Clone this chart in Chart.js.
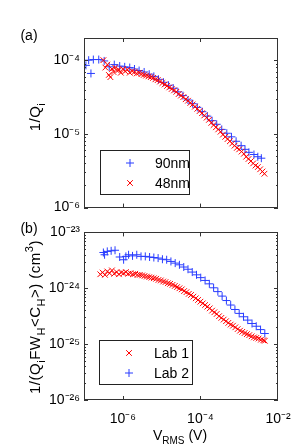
<!DOCTYPE html>
<html><head><meta charset="utf-8">
<script src="https://cdn.jsdelivr.net/npm/chart.js@4.4.1/dist/chart.umd.min.js"></script>
<style>
html,body{margin:0;padding:0;background:#fff;width:308px;height:447px;overflow:hidden}
#c1{position:absolute;left:0;top:0;width:308px;height:220px}
#c2{position:absolute;left:0;top:220px;width:308px;height:227px}
</style></head><body>
<canvas id="c1" width="308" height="220"></canvas>
<canvas id="c2" width="308" height="227"></canvas>
<script>
// ---------- data (a) ----------
const topV90=[1.12e-7,1.32e-7,1.51e-7,1.74e-7,2.40e-7,3.31e-7,4.47e-7,6.03e-7,8.32e-7,1.12e-6,1.51e-6,2.00e-6,2.63e-6,3.55e-6,4.79e-6,6.31e-6,8.32e-6,1.12e-5,1.51e-5,2.00e-5,2.63e-5,3.55e-5,4.79e-5,6.31e-5,8.32e-5,1.12e-4,1.51e-4,2.00e-4,2.63e-4,3.55e-4,4.79e-4,6.31e-4,8.32e-4,1.12e-3,1.41e-3,1.78e-3,2.40e-3,3.02e-3,3.72e-3];
const top90=[8.51e-5,1.00e-4,6.61e-5,1.02e-4,1.02e-4,9.77e-5,8.13e-5,8.71e-5,8.32e-5,8.13e-5,7.94e-5,7.59e-5,7.24e-5,6.92e-5,6.46e-5,6.03e-5,5.50e-5,5.01e-5,4.57e-5,4.17e-5,3.72e-5,3.31e-5,2.88e-5,2.57e-5,2.29e-5,2.00e-5,1.74e-5,1.51e-5,1.35e-5,1.15e-5,1.02e-5,9.12e-6,7.94e-6,6.92e-6,6.17e-6,5.62e-6,5.25e-6,4.90e-6,4.68e-6];
const topV48=[3.16e-7,3.55e-7,3.98e-7,4.37e-7,4.79e-7,5.25e-7,5.75e-7,6.31e-7,7.08e-7,7.94e-7,8.91e-7,1.00e-6,1.15e-6,1.32e-6,1.51e-6,1.74e-6,2.00e-6,2.29e-6,2.63e-6,3.02e-6,3.47e-6,3.98e-6,4.57e-6,5.25e-6,6.03e-6,6.92e-6,7.94e-6,9.12e-6,1.05e-5,1.20e-5,1.38e-5,1.58e-5,1.82e-5,2.09e-5,2.40e-5,2.75e-5,3.16e-5,3.63e-5,4.17e-5,4.79e-5,5.50e-5,6.31e-5,7.24e-5,8.32e-5,9.55e-5,1.10e-4,1.26e-4,1.45e-4,1.66e-4,1.91e-4,2.19e-4,2.51e-4,2.88e-4,3.31e-4,3.80e-4,4.37e-4,5.01e-4,5.75e-4,6.61e-4,7.59e-4,8.71e-4,1.00e-3,1.15e-3,1.32e-3,1.51e-3,1.74e-3,2.00e-3,2.29e-3,2.63e-3,3.02e-3,3.47e-3,3.98e-3,4.47e-3];
const top48=[1.00e-4,7.94e-5,8.71e-5,6.31e-5,5.89e-5,7.59e-5,6.92e-5,7.94e-5,7.24e-5,7.41e-5,6.76e-5,7.59e-5,7.08e-5,7.41e-5,6.76e-5,7.08e-5,6.92e-5,6.61e-5,6.76e-5,6.46e-5,6.31e-5,6.17e-5,6.03e-5,5.89e-5,5.75e-5,5.50e-5,5.37e-5,5.13e-5,4.90e-5,4.68e-5,4.47e-5,4.27e-5,4.07e-5,3.89e-5,3.72e-5,3.47e-5,3.31e-5,3.16e-5,2.95e-5,2.82e-5,2.63e-5,2.51e-5,2.34e-5,2.19e-5,2.04e-5,1.91e-5,1.78e-5,1.66e-5,1.55e-5,1.41e-5,1.32e-5,1.23e-5,1.15e-5,1.07e-5,9.77e-6,9.12e-6,8.51e-6,7.94e-6,7.41e-6,6.92e-6,6.46e-6,6.17e-6,5.75e-6,5.37e-6,4.90e-6,4.57e-6,4.27e-6,3.98e-6,3.72e-6,3.55e-6,3.31e-6,3.09e-6,2.88e-6];
// ---------- data (b) ----------
const botVLab1=[2.63e-7,3.02e-7,3.47e-7,3.98e-7,4.57e-7,5.25e-7,6.03e-7,6.92e-7,7.94e-7,9.12e-7,1.05e-6,1.20e-6,1.38e-6,1.58e-6,1.82e-6,2.09e-6,2.40e-6,2.75e-6,3.16e-6,3.63e-6,4.17e-6,4.79e-6,5.50e-6,6.31e-6,7.24e-6,8.32e-6,9.55e-6,1.10e-5,1.26e-5,1.45e-5,1.66e-5,1.91e-5,2.19e-5,2.51e-5,2.88e-5,3.31e-5,3.80e-5,4.37e-5,5.01e-5,5.75e-5,6.61e-5,7.59e-5,8.71e-5,1.00e-4,1.15e-4,1.32e-4,1.51e-4,1.74e-4,2.00e-4,2.29e-4,2.63e-4,3.02e-4,3.47e-4,3.98e-4,4.57e-4,5.25e-4,6.03e-4,6.92e-4,7.94e-4,9.12e-4,1.05e-3,1.20e-3,1.38e-3,1.58e-3,1.82e-3,2.09e-3,2.40e-3,2.75e-3,3.16e-3,3.63e-3,4.17e-3,4.57e-3];
const botLab1=[1.78e-24,1.91e-24,1.74e-24,2.00e-24,1.86e-24,2.09e-24,1.82e-24,1.95e-24,1.78e-24,1.91e-24,1.86e-24,1.95e-24,1.82e-24,1.86e-24,1.78e-24,1.82e-24,1.74e-24,1.74e-24,1.70e-24,1.66e-24,1.62e-24,1.58e-24,1.55e-24,1.51e-24,1.48e-24,1.41e-24,1.38e-24,1.32e-24,1.29e-24,1.23e-24,1.20e-24,1.15e-24,1.10e-24,1.05e-24,1.00e-24,9.55e-25,8.91e-25,8.51e-25,7.94e-25,7.59e-25,7.08e-25,6.61e-25,6.17e-25,5.75e-25,5.37e-25,5.01e-25,4.68e-25,4.37e-25,3.98e-25,3.72e-25,3.47e-25,3.16e-25,2.95e-25,2.75e-25,2.57e-25,2.40e-25,2.24e-25,2.14e-25,2.00e-25,1.86e-25,1.74e-25,1.66e-25,1.58e-25,1.51e-25,1.45e-25,1.38e-25,1.32e-25,1.29e-25,1.26e-25,1.20e-25,1.17e-25,1.15e-25];
const botVLab2=[3.16e-7,3.39e-7,3.98e-7,5.01e-7,6.31e-7,8.32e-7,1.05e-6,1.20e-6,1.41e-6,1.78e-6,2.29e-6,2.95e-6,3.80e-6,4.90e-6,6.31e-6,8.13e-6,1.05e-5,1.35e-5,1.74e-5,2.24e-5,2.88e-5,3.72e-5,4.79e-5,6.17e-5,7.94e-5,1.02e-4,1.32e-4,1.70e-4,2.19e-4,2.82e-4,3.63e-4,4.68e-4,6.03e-4,7.76e-4,1.00e-3,1.29e-3,1.66e-3,2.14e-3,2.75e-3,3.55e-3,4.57e-3];
const botLab2=[4.37e-24,3.98e-24,4.57e-24,4.68e-24,4.79e-24,3.63e-24,3.24e-24,3.72e-24,3.98e-24,3.80e-24,3.98e-24,3.72e-24,3.72e-24,3.63e-24,3.55e-24,3.47e-24,3.31e-24,3.24e-24,3.02e-24,2.82e-24,2.63e-24,2.40e-24,2.19e-24,1.95e-24,1.74e-24,1.55e-24,1.38e-24,1.20e-24,1.02e-24,8.71e-25,7.24e-25,6.03e-25,5.01e-25,4.17e-25,3.55e-25,3.09e-25,2.69e-25,2.34e-25,2.09e-25,1.82e-25,1.55e-25];
// ---------- axes ----------
const xTicks=[1e-6,1e-4,1e-2];
const yTicksTop=[1e-6,1e-5,1e-4];
const yTicksBot=[1e-26,1e-25,1e-24,1e-23];
const seriesNamesTop=['90nm','48nm'];
const seriesNamesBot=['Lab 1','Lab 2'];

const BLUE='rgb(40,60,255)', RED='rgb(255,0,0)';
const FONT='"Liberation Sans", Arial, sans-serif';
const SUP={'-':'\u207B','0':'\u2070','1':'\u00B9','2':'\u00B2','3':'\u00B3','4':'\u2074','5':'\u2075','6':'\u2076','7':'\u2077','8':'\u2078','9':'\u2079'};
function fmt(v){const e=Math.round(Math.log10(v));return '10'+String(e).split('').map(c=>SUP[c]).join('');}
const pts=(xs,ys)=>xs.map((x,i)=>({x:x,y:ys[i]}));

function drawRich(ctx,x,y,segs,rot,size,sp){
  const sub=Math.round(size*0.72);
  ctx.save();ctx.translate(x,y);if(rot)ctx.rotate(-Math.PI/2);
  if(sp&&('letterSpacing' in ctx))ctx.letterSpacing=sp+'px';
  let w=0;
  segs.forEach(s=>{ctx.font=(s.s?sub:size)+'px '+FONT;w+=ctx.measureText(s.t).width;});
  let cx=-w/2;ctx.fillStyle='#000';ctx.textBaseline='alphabetic';ctx.textAlign='left';
  segs.forEach(s=>{ctx.font=(s.s?sub:size)+'px '+FONT;const dy=s.s==='sub'?size*0.3:(s.s==='sup'?-size*0.45:0);ctx.fillText(s.t,cx,dy);cx+=ctx.measureText(s.t).width;});
  ctx.restore();
}

const framePlugin={id:'frame',afterDraw(chart,args,o){
  const ctx=chart.ctx,a=chart.chartArea,xs=chart.scales.x,ys=chart.scales.y;
  ctx.save();ctx.strokeStyle='#333';ctx.lineWidth=1;
  ctx.strokeRect(Math.round(a.left)+0.5,Math.round(a.top)+0.5,Math.round(a.right-a.left)-1,Math.round(a.bottom-a.top)-1);
  ctx.beginPath();
  const lo=Math.round(Math.log10(ys.min)),hi=Math.ceil(Math.log10(ys.max));
  for(let d=lo;d<=hi;d++){for(let m=1;m<10;m++){const v=m*Math.pow(10,d);if(v<ys.min*0.999||v>ys.max*1.001)continue;
    const py=Math.round(ys.getPixelForValue(v))+0.5,L=m===1?4:2;
    ctx.moveTo(a.left,py);ctx.lineTo(a.left+L,py);ctx.moveTo(a.right,py);ctx.lineTo(a.right-L,py);}}
  xTicks.forEach(v=>{if(v<=xs.min||v>=xs.max)return;const px=Math.round(xs.getPixelForValue(v))+0.5;
    ctx.moveTo(px,a.bottom);ctx.lineTo(px,a.bottom-4);ctx.moveTo(px,a.top);ctx.lineTo(px,a.top+4);});
  ctx.stroke();
  // legend
  const L=o.legend;ctx.strokeStyle='#222';ctx.strokeRect(L.x+0.5,L.y+0.5,L.w,L.h);
  L.order.forEach((di,i)=>{const ds=chart.data.datasets[di];const ry=L.y+L.r0+i*L.dr;
    ctx.strokeStyle=ds.borderColor;ctx.lineWidth=1;
    Chart.helpers.drawPoint(ctx,{pointStyle:ds.pointStyle,radius:4,borderWidth:1},L.x+L.mx,ry);
    ctx.fillStyle='#000';ctx.font='14px '+FONT;ctx.textBaseline='middle';ctx.textAlign='left';ctx.fillText(ds.label,L.x+L.tx,ry+1);});
  // titles
  (o.titles||[]).forEach(t=>drawRich(ctx,t.x,t.y,t.segs,t.rot,t.size,t.sp));
  ctx.restore();
}};

function makeScales(ymin,ymax,yt,xShow,xh){
  return {
    x:{type:'logarithmic',min:1e-7,max:1e-2,grid:{display:false,drawTicks:false},border:{display:false},
      afterBuildTicks:s=>{s.ticks=xTicks.map(v=>({value:v}));},
      ticks:{display:xShow,callback:v=>fmt(v),font:{family:FONT,size:14},color:'#000',padding:11,maxRotation:0,autoSkip:false},
      afterFit:s=>{s.height=xh;}},
    y:{type:'logarithmic',min:ymin,max:ymax,grid:{display:false,drawTicks:false},border:{display:false},
      afterBuildTicks:s=>{s.ticks=yt.map(v=>({value:v}));},
      ticks:{callback:v=>fmt(v),font:{family:FONT,size:14},color:'#000',padding:4,autoSkip:false},
      afterFit:s=>{s.width=84;}}
  };
}
const common={responsive:false,animation:false,events:[],plugins:{legend:{display:false},tooltip:{enabled:false}}};

new Chart(document.getElementById('c1'),{type:'scatter',
  data:{datasets:[
    {label:seriesNamesTop[0],data:pts(topV90,top90),pointStyle:'cross',pointRadius:4,borderColor:BLUE,backgroundColor:BLUE,pointBorderWidth:1,order:2},
    {label:seriesNamesTop[1],data:pts(topV48,top48),pointStyle:'crossRot',pointRadius:4,borderColor:RED,backgroundColor:RED,pointBorderWidth:1,order:1}]},
  options:Object.assign({},common,{layout:{padding:{top:38,right:30,left:0,bottom:0}},
    scales:makeScales(1e-6,2e-4,yTicksTop,false,11),
    plugins:Object.assign({},common.plugins,{frame:{
      legend:{x:100,y:150,w:89,h:44,r0:13,dr:20,mx:30,tx:55,order:[0,1]},
      titles:[{x:29,y:40,segs:[{t:'(a)'}],rot:false,size:14},
              {x:40,y:117,segs:[{t:'1/Q'},{t:'i',s:'sub'}],rot:true,size:15,sp:0.5}]}})}),
  plugins:[framePlugin]});

new Chart(document.getElementById('c2'),{type:'scatter',
  data:{datasets:[
    {label:seriesNamesBot[0],data:pts(botVLab1,botLab1),pointStyle:'crossRot',pointRadius:4,borderColor:RED,backgroundColor:RED,pointBorderWidth:1},
    {label:seriesNamesBot[1],data:pts(botVLab2,botLab2),pointStyle:'cross',pointRadius:4,borderColor:BLUE,backgroundColor:BLUE,pointBorderWidth:1}]},
  options:Object.assign({},common,{layout:{padding:{top:9,right:30,left:0,bottom:0}},
    scales:makeScales(1e-26,1e-23,yTicksBot,true,47),
    plugins:Object.assign({},common.plugins,{frame:{
      legend:{x:99,y:120,w:93,h:44,r0:13,dr:20,mx:30,tx:55,order:[0,1]},
      titles:[{x:29,y:13,segs:[{t:'(b)'}],rot:false,size:14},
              {x:40,y:97,segs:[{t:'1/(Q'},{t:'i',s:'sub'},{t:'FW'},{t:'H',s:'sub'},{t:'<C'},{t:'H',s:'sub'},{t:'>) (cm'},{t:'3',s:'sup'},{t:')'}],rot:true,size:15,sp:0.5},
              {x:180,y:220,segs:[{t:'V'},{t:'RMS',s:'sub'},{t:' (V)'}],rot:false,size:14}]}})}),
  plugins:[framePlugin]});
</script>
</body></html>
